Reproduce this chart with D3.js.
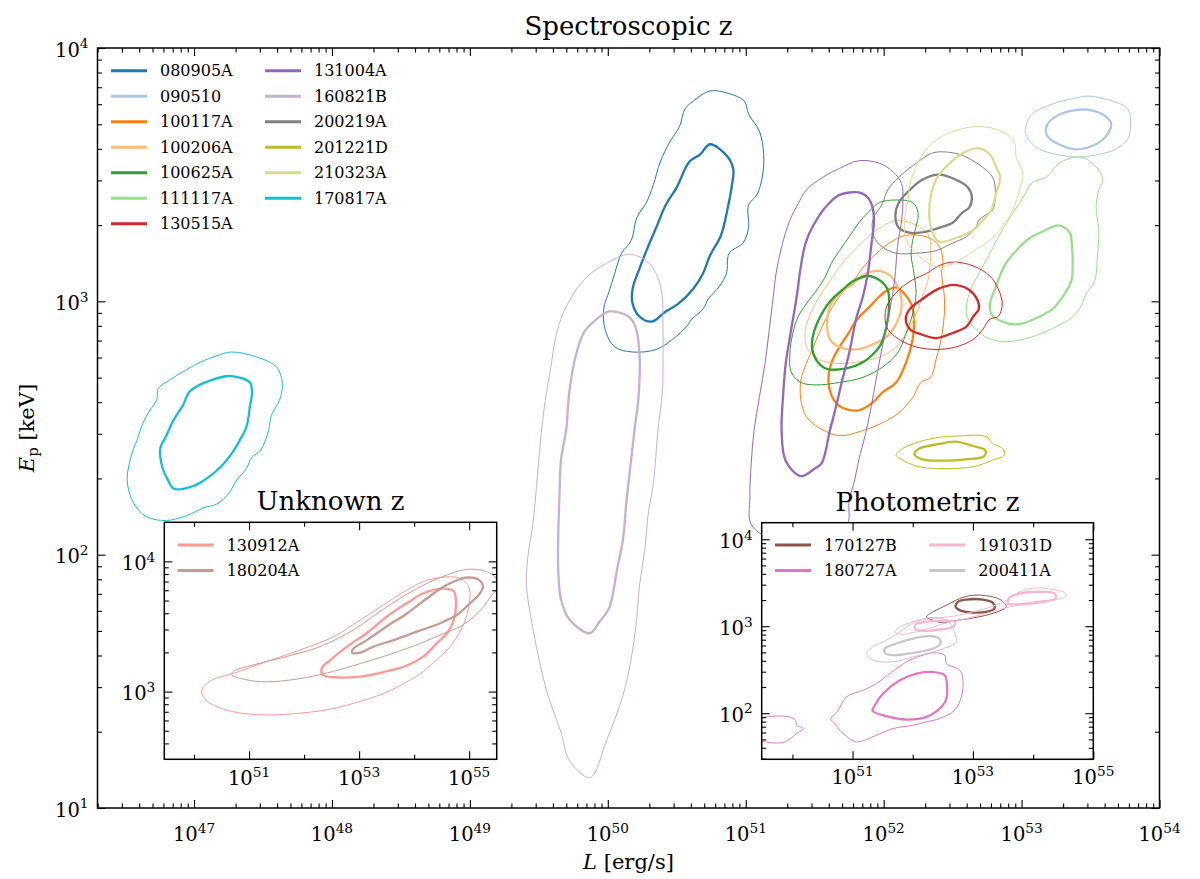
<!DOCTYPE html>
<html>
<head>
<meta charset="utf-8">
<script src="https://cdn.jsdelivr.net/npm/d3@7"></script>
<style>
  body { margin: 0; background: #fff; }
  svg text { font-family: "DejaVu Serif", serif; fill: #000; }
</style>
</head>
<body>
<svg id="chart" width="1200" height="879"></svg>
<script>
// contour rings, points are [log10 L (erg/s), log10 Ep (keV)]
// inner = thick contour, outer = thin contour

const in080905A = [[[50.74,3.62],[50.87,3.57],[50.91,3.52],[50.90,3.46],[50.87,3.37],[50.82,3.26],[50.74,3.18],[50.69,3.11],[50.62,3.05],[50.51,2.99],[50.42,2.96],[50.32,2.92],[50.23,2.94],[50.18,2.99],[50.18,3.05],[50.23,3.13],[50.28,3.20],[50.35,3.29],[50.42,3.38],[50.50,3.45],[50.59,3.55],[50.67,3.58]]];
const out080905A = [[[50.74,3.83],[50.88,3.82],[50.99,3.79],[51.02,3.74],[51.10,3.67],[51.13,3.58],[51.12,3.49],[51.08,3.42],[51.02,3.38],[51.02,3.29],[50.98,3.23],[50.88,3.19],[50.86,3.11],[50.81,3.06],[50.73,3.01],[50.69,2.97],[50.61,2.93],[50.57,2.90],[50.47,2.85],[50.35,2.81],[50.18,2.80],[50.05,2.82],[49.98,2.89],[49.97,2.97],[50.01,3.04],[50.05,3.11],[50.10,3.19],[50.17,3.24],[50.21,3.33],[50.28,3.39],[50.33,3.46],[50.38,3.55],[50.45,3.63],[50.52,3.69],[50.56,3.76],[50.62,3.79]]];

const in090510 = [[[53.39,3.755],[53.515,3.753],[53.61,3.73],[53.65,3.70],[53.61,3.65],[53.54,3.62],[53.39,3.60],[53.27,3.62],[53.19,3.65],[53.18,3.69],[53.25,3.73]]];
const out090510 = [[[53.49,3.81],[53.66,3.79],[53.77,3.76],[53.79,3.70],[53.77,3.64],[53.68,3.60],[53.56,3.58],[53.42,3.57],[53.25,3.58],[53.10,3.61],[53.03,3.66],[53.03,3.69],[53.08,3.74],[53.23,3.78],[53.37,3.80]]];

const in100117A = [[[52.09,3.055],[52.15,3.03],[52.20,2.99],[52.22,2.93],[52.21,2.85],[52.16,2.755],[52.09,2.68],[51.99,2.64],[51.92,2.60],[51.82,2.57],[51.70,2.58],[51.64,2.61],[51.60,2.68],[51.62,2.755],[51.68,2.82],[51.74,2.87],[51.81,2.93],[51.90,2.98],[51.97,3.02],[52.03,3.045]]];
const out100117A = [[[52.16,3.26],[52.31,3.255],[52.40,3.22],[52.43,3.16],[52.42,3.11],[52.44,3.02],[52.44,2.95],[52.42,2.86],[52.38,2.77],[52.34,2.70],[52.27,2.68],[52.21,2.62],[52.11,2.56],[51.99,2.52],[51.85,2.49],[51.68,2.47],[51.535,2.50],[51.44,2.545],[51.40,2.61],[51.40,2.69],[51.44,2.755],[51.49,2.82],[51.58,2.93],[51.68,3.02],[51.78,3.08],[51.86,3.14],[51.97,3.20],[52.07,3.24]]];

const in100206A = [[[51.96,3.12],[52.05,3.10],[52.11,3.045],[52.13,2.98],[52.09,2.91],[52.02,2.86],[51.92,2.83],[51.80,2.81],[51.68,2.82],[51.61,2.85],[51.59,2.91],[51.61,2.98],[51.68,3.03],[51.78,3.07],[51.87,3.11]]];
const out100206A = [[[52.09,3.32],[52.26,3.295],[52.33,3.255],[52.34,3.18],[52.32,3.08],[52.28,3.02],[52.235,2.95],[52.16,2.87],[52.09,2.82],[51.97,2.78],[51.80,2.76],[51.655,2.755],[51.535,2.77],[51.45,2.81],[51.43,2.87],[51.46,2.94],[51.535,3.02],[51.61,3.08],[51.70,3.15],[51.82,3.22],[51.92,3.27],[51.99,3.295]]];

const in100625A = [[[51.885,3.10],[51.98,3.08],[52.03,3.045],[52.04,2.98],[52.02,2.90],[51.98,2.83],[51.93,2.795],[51.85,2.76],[51.73,2.735],[51.58,2.735],[51.51,2.77],[51.48,2.82],[51.49,2.87],[51.55,2.95],[51.62,3.005],[51.70,3.045],[51.78,3.08]]];
const out100625A = [[[52.09,3.40],[52.21,3.39],[52.25,3.35],[52.235,3.295],[52.21,3.24],[52.20,3.18],[52.22,3.11],[52.235,3.03],[52.21,2.95],[52.16,2.87],[52.10,2.795],[51.99,2.74],[51.85,2.70],[51.68,2.68],[51.51,2.67],[51.40,2.68],[51.33,2.72],[51.32,2.795],[51.34,2.87],[51.38,2.94],[51.46,3.005],[51.535,3.06],[51.58,3.10],[51.62,3.15],[51.68,3.20],[51.75,3.255],[51.82,3.31],[51.885,3.35],[51.97,3.39]]];

const in111117A = [[[53.27,3.30],[53.35,3.27],[53.365,3.22],[53.37,3.14],[53.36,3.08],[53.30,3.02],[53.225,2.97],[53.13,2.94],[52.98,2.91],[52.86,2.92],[52.78,2.95],[52.77,2.99],[52.815,3.06],[52.875,3.14],[52.96,3.20],[53.06,3.25],[53.15,3.275]]];
const out111117A = [[[53.42,3.57],[53.515,3.545],[53.59,3.48],[53.56,3.44],[53.54,3.37],[53.56,3.28],[53.55,3.18],[53.53,3.08],[53.47,3.03],[53.42,2.97],[53.35,2.93],[53.25,2.90],[53.13,2.87],[53.01,2.85],[52.86,2.84],[52.74,2.86],[52.65,2.90],[52.60,2.95],[52.62,3.03],[52.69,3.11],[52.77,3.19],[52.86,3.28],[53.01,3.41],[53.08,3.47],[53.18,3.49],[53.27,3.545]]];

const in130515A = [[[52.51,3.065],[52.62,3.045],[52.68,3.005],[52.69,2.97],[52.65,2.94],[52.60,2.90],[52.50,2.875],[52.38,2.855],[52.27,2.87],[52.19,2.89],[52.16,2.93],[52.19,2.97],[52.27,3.005],[52.40,3.05]]];
const out130515A = [[[52.50,3.155],[52.65,3.14],[52.77,3.10],[52.83,3.05],[52.86,2.99],[52.83,2.94],[52.77,2.93],[52.72,2.89],[52.65,2.85],[52.525,2.82],[52.38,2.81],[52.235,2.82],[52.11,2.85],[52.03,2.89],[52.01,2.94],[52.03,2.99],[52.11,3.045],[52.21,3.085],[52.31,3.11],[52.40,3.14]]];

const in131004A = [[[51.68,3.42],[51.82,3.43],[51.885,3.41],[51.92,3.37],[51.93,3.32],[51.91,3.22],[51.885,3.11],[51.85,3.02],[51.80,2.93],[51.75,2.795],[51.70,2.69],[51.655,2.585],[51.61,2.49],[51.55,2.36],[51.50,2.34],[51.40,2.31],[51.29,2.37],[51.26,2.49],[51.27,2.62],[51.29,2.755],[51.33,2.89],[51.37,3.02],[51.40,3.14],[51.44,3.24],[51.535,3.34],[51.61,3.39]]];
const out131004A = [[[51.82,3.555],[51.97,3.545],[52.07,3.51],[52.13,3.465],[52.14,3.40],[52.13,3.32],[52.10,3.215],[52.08,3.085],[52.04,2.95],[51.99,2.82],[51.945,2.69],[51.91,2.585],[51.87,2.48],[51.82,2.375],[51.79,2.295],[51.75,2.215],[51.73,2.11],[51.44,2.03],[51.05,2.11],[51.03,2.23],[51.04,2.36],[51.06,2.49],[51.10,2.625],[51.14,2.755],[51.17,2.885],[51.20,3.02],[51.22,3.11],[51.26,3.215],[51.32,3.32],[51.38,3.385],[51.44,3.44],[51.56,3.49],[51.68,3.525]]];

const in160821B = [[[50.01,2.96],[50.15,2.94],[50.20,2.90],[50.23,2.79],[50.22,2.605],[50.195,2.50],[50.16,2.33],[50.135,2.21],[50.11,2.06],[50.07,1.95],[50.01,1.79],[49.94,1.735],[49.87,1.69],[49.72,1.745],[49.66,1.825],[49.64,1.95],[49.64,2.06],[49.65,2.24],[49.66,2.37],[49.70,2.50],[49.72,2.64],[49.77,2.79],[49.83,2.88],[49.92,2.93]]];
const out160821B = [[[50.15,3.185],[50.28,3.16],[50.35,3.11],[50.39,3.04],[50.40,2.895],[50.40,2.75],[50.395,2.64],[50.365,2.50],[50.33,2.28],[50.29,2.15],[50.27,2.025],[50.23,1.88],[50.21,1.75],[50.17,1.59],[50.11,1.445],[49.99,1.265],[49.87,1.12],[49.72,1.19],[49.66,1.30],[49.555,1.465],[49.46,1.70],[49.41,1.88],[49.42,1.99],[49.46,2.135],[49.49,2.315],[49.52,2.495],[49.555,2.64],[49.59,2.75],[49.615,2.84],[49.66,2.93],[49.74,3.02],[49.845,3.095],[49.99,3.15]]];

const in200219A = [[[52.40,3.50],[52.525,3.48],[52.61,3.45],[52.64,3.41],[52.62,3.37],[52.57,3.35],[52.50,3.31],[52.40,3.29],[52.31,3.275],[52.20,3.27],[52.11,3.29],[52.085,3.34],[52.11,3.39],[52.19,3.44],[52.28,3.48]]];
const out200219A = [[[52.40,3.59],[52.55,3.58],[52.69,3.54],[52.79,3.49],[52.81,3.425],[52.79,3.36],[52.75,3.345],[52.69,3.32],[52.67,3.295],[52.60,3.255],[52.50,3.23],[52.38,3.20],[52.235,3.19],[52.09,3.19],[51.99,3.215],[51.93,3.255],[51.92,3.32],[51.99,3.385],[52.03,3.44],[52.11,3.49],[52.235,3.545],[52.33,3.58]]];

const in201221D = [[[52.525,2.446],[52.646,2.429],[52.737,2.413],[52.73,2.389],[52.597,2.376],[52.428,2.371],[52.283,2.376],[52.223,2.397],[52.259,2.419],[52.404,2.437]]];
const out201221D = [[[52.525,2.468],[52.742,2.466],[52.79,2.439],[52.863,2.419],[52.875,2.393],[52.79,2.373],[52.646,2.347],[52.452,2.34],[52.259,2.347],[52.138,2.373],[52.09,2.393],[52.138,2.419],[52.259,2.446],[52.404,2.463]]];

const in210323A = [[[52.68,3.605],[52.77,3.58],[52.815,3.53],[52.845,3.49],[52.815,3.425],[52.78,3.36],[52.72,3.32],[52.645,3.28],[52.55,3.255],[52.40,3.235],[52.355,3.27],[52.33,3.345],[52.345,3.425],[52.38,3.48],[52.45,3.53],[52.56,3.58]]];
const out210323A = [[[52.69,3.69],[52.86,3.67],[52.95,3.625],[52.96,3.57],[53.01,3.505],[52.985,3.44],[52.935,3.36],[52.86,3.295],[52.765,3.24],[52.645,3.195],[52.525,3.155],[52.405,3.135],[52.31,3.155],[52.235,3.19],[52.165,3.24],[52.15,3.31],[52.175,3.40],[52.20,3.48],[52.26,3.56],[52.355,3.625],[52.50,3.67]]];

const in170817A = [[[47.27,2.705],[47.405,2.68],[47.42,2.64],[47.405,2.585],[47.38,2.505],[47.33,2.45],[47.28,2.405],[47.19,2.345],[47.09,2.30],[46.99,2.27],[46.855,2.26],[46.81,2.295],[46.77,2.345],[46.755,2.42],[46.80,2.47],[46.85,2.53],[46.92,2.59],[46.97,2.645],[47.13,2.69]]];
const out170817A = [[[47.27,2.80],[47.455,2.78],[47.60,2.74],[47.64,2.675],[47.62,2.61],[47.56,2.55],[47.54,2.49],[47.48,2.41],[47.42,2.385],[47.38,2.34],[47.31,2.295],[47.25,2.24],[47.165,2.20],[47.07,2.185],[46.95,2.155],[46.80,2.135],[46.655,2.15],[46.56,2.205],[46.515,2.295],[46.55,2.40],[46.585,2.45],[46.63,2.52],[46.68,2.57],[46.73,2.61],[46.74,2.655],[46.825,2.69],[46.945,2.73],[47.045,2.76],[47.165,2.785]]];

// unknown redshift
const in130912A = [[[54.53,3.79],[54.72,3.77],[54.76,3.68],[54.72,3.55],[54.60,3.45],[54.41,3.37],[54.17,3.27],[53.87,3.20],[53.44,3.15],[53.02,3.115],[52.53,3.11],[52.34,3.13],[52.32,3.18],[52.47,3.24],[52.78,3.345],[53.14,3.45],[53.50,3.575],[53.87,3.68],[54.17,3.755]]];
const out130912A = [[[50.14,3.01],[50.29,3.08],[50.715,3.14],[51.32,3.23],[51.93,3.32],[52.53,3.42],[53.02,3.55],[53.44,3.665],[53.87,3.78],[54.17,3.845],[54.47,3.875],[54.72,3.88],[54.90,3.855],[55.01,3.78],[54.99,3.65],[54.93,3.55],[54.81,3.445],[54.655,3.345],[54.41,3.245],[54.17,3.155],[53.87,3.075],[53.44,2.985],[52.90,2.91],[52.41,2.86],[51.93,2.835],[51.32,2.82],[50.715,2.845],[50.29,2.91],[50.17,2.96]]];

const in180204A = [[[54.93,3.875],[55.17,3.86],[55.25,3.805],[55.17,3.74],[55.02,3.68],[54.78,3.59],[54.47,3.525],[54.05,3.46],[53.625,3.395],[53.26,3.345],[53.02,3.30],[52.87,3.30],[52.90,3.33],[53.14,3.395],[53.50,3.50],[53.87,3.60],[54.23,3.715],[54.53,3.805],[54.78,3.855]]];
const out180204A = [[[55.08,3.94],[55.32,3.92],[55.47,3.88],[55.53,3.805],[55.41,3.74],[55.26,3.65],[55.08,3.575],[54.84,3.50],[54.53,3.445],[54.11,3.37],[53.625,3.295],[53.02,3.215],[52.53,3.155],[51.93,3.10],[51.32,3.075],[50.96,3.09],[50.685,3.13],[50.715,3.155],[51.08,3.205],[51.685,3.27],[52.29,3.345],[52.90,3.475],[53.50,3.65],[54.11,3.805],[54.595,3.895],[54.90,3.935]]];

// photometric redshift
const in170127B = [[[52.89,3.306],[53.167,3.306],[53.333,3.268],[53.36,3.203],[53.222,3.165],[53.001,3.157],[52.808,3.176],[52.714,3.222],[52.752,3.28]]];
const out170127B = [[[53.001,3.356],[53.277,3.345],[53.471,3.299],[53.554,3.222],[53.443,3.176],[53.222,3.126],[52.946,3.088],[52.669,3.061],[52.504,3.038],[52.338,3.069],[52.227,3.107],[52.338,3.165],[52.559,3.241],[52.78,3.318]]];

const in180727A = [[[52.28,2.475],[52.53,2.437],[52.57,2.303],[52.55,2.15],[52.42,2.035],[52.23,1.958],[51.895,1.927],[51.564,1.966],[51.332,2.027],[51.37,2.092],[51.508,2.226],[51.785,2.379],[52.061,2.456]]];
const out180727A = [
  [[52.338,2.694],[52.531,2.667],[52.559,2.571],[52.78,2.494],[52.835,2.379],[52.807,2.188],[52.697,2.035],[52.448,1.939],[52.227,1.901],[52.006,1.862],[51.674,1.824],[51.398,1.747],[51.066,1.671],[50.845,1.766],[50.679,1.901],[50.635,1.927],[50.762,2.035],[50.9,2.188],[51.177,2.264],[51.398,2.341],[51.619,2.456],[51.895,2.59],[52.116,2.655]],
  [[49.40,1.92],[49.85,1.966],[50.044,1.927],[50.071,1.862],[50.182,1.824],[50.071,1.766],[49.878,1.671],[49.684,1.659],[49.40,1.709],[49.38,1.824]]
];

const in191031D = [
  [[53.775,3.376],[54.162,3.395],[54.355,3.376],[54.372,3.318],[54.162,3.28],[53.775,3.253],[53.581,3.261],[53.609,3.33]],
  [[52.116,3.038],[52.448,3.061],[52.697,3.05],[52.669,2.992],[52.448,2.962],[52.172,2.946],[52.034,2.973],[52.05,3.023]]
];
const out191031D = [[[53.775,3.395],[54.051,3.441],[54.383,3.414],[54.549,3.375],[54.521,3.33],[54.328,3.306],[53.996,3.28],[53.664,3.23],[53.443,3.192],[53.222,3.146],[53.001,3.107],[52.78,3.069],[52.559,3.038],[52.338,2.992],[52.061,2.935],[51.785,2.908],[51.702,2.935],[51.785,2.992],[52.006,3.05],[52.338,3.088],[52.669,3.115],[53.001,3.165],[53.333,3.23],[53.554,3.299]]];

const in200411A = [[[52.282,2.885],[52.437,2.858],[52.459,2.801],[52.338,2.743],[52.006,2.694],[51.674,2.667],[51.536,2.694],[51.536,2.743],[51.73,2.801],[52.006,2.858]]];
const out200411A = [[[52.282,3.1],[52.559,3.069],[52.669,2.973],[52.725,2.82],[52.586,2.763],[52.338,2.705],[52.006,2.648],[51.674,2.59],[51.343,2.609],[51.232,2.686],[51.343,2.763],[51.564,2.839],[51.785,2.935],[52.006,3.038]]];

const spectroNames = ["080905A","090510","100117A","100206A","100625A","111117A","130515A",
                      "131004A","160821B","200219A","201221D","210323A","170817A"];
const spectroSets = [[in080905A,out080905A],[in090510,out090510],[in100117A,out100117A],[in100206A,out100206A],
  [in100625A,out100625A],[in111117A,out111117A],[in130515A,out130515A],[in131004A,out131004A],
  [in160821B,out160821B],[in200219A,out200219A],[in201221D,out201221D],[in210323A,out210323A],[in170817A,out170817A]];
const unknownNames = ["130912A","180204A"];
const unknownSets = [[in130912A,out130912A],[in180204A,out180204A]];
const photoNames = ["170127B","180727A","191031D","200411A"];
const photoSets = [[in170127B,out170127B],[in180727A,out180727A],[in191031D,out191031D],[in200411A,out200411A]];

// axis ranges (log10) and labelled decades
const mainXRange = [46.3, 54], mainYRange = [1, 4];
const mainXTicks = [47,48,49,50,51,52,53,54], mainYTicks = [1,2,3,4];
const unkXRange = [49.46, 55.5], unkYRange = [2.48, 4.3];
const unkXTicks = [51,53,55], unkXMinor = [50,52,54], unkYTicks = [3,4];
const phoXRange = [49.49, 55], phoYRange = [1.47, 4.19];
const phoXTicks = [51,53,55], phoXMinor = [50,52,54], phoYTicks = [2,3,4];

// colours (tab20)
const spectroColors = ["#1f77b4","#aec7e8","#ff7f0e","#ffbb78","#2ca02c","#98df8a","#d62728",
                       "#9467bd","#c5b0d5","#7f7f7f","#bcbd22","#dbdb8d","#17becf"];
const unknownColors = ["#ff9896","#c49c94"];
const photoColors = ["#8c564b","#e377c2","#f7b6d2","#c7c7c7"];

const svg = d3.select("#chart");
const defs = svg.append("defs");
const TICK = 19.5;

function minors(range) {
  const out = [];
  for (let d = Math.floor(range[0]); d <= Math.ceil(range[1]); d++)
    for (let m = 2; m <= 9; m++) {
      const v = d + Math.log10(m);
      if (v > range[0] && v < range[1]) out.push(m * 10 ** d);
    }
  return out;
}

function sup(g, x, y, exp, anchor) {
  const t = g.append("text").attr("x", x).attr("y", y)
    .attr("text-anchor", anchor).attr("font-size", TICK);
  t.append("tspan").text("10");
  t.append("tspan").attr("dy", -0.42 * TICK).attr("font-size", TICK * 0.7).text(exp);
}

function panel(id, left, top, w, h, xr, yr, o) {
  const x = d3.scaleLog().domain(xr.map(v => 10 ** v)).range([0, w]);
  const y = d3.scaleLog().domain(yr.map(v => 10 ** v)).range([h, 0]);
  const g = svg.append("g").attr("transform", `translate(${left},${top})`);

  g.append("rect").attr("width", w).attr("height", h).attr("fill", "#fff");

  defs.append("clipPath").attr("id", "clip-" + id)
    .append("rect").attr("width", w).attr("height", h);
  const plot = g.append("g").attr("clip-path", `url(#clip-${id})`);

  const line = d3.line()
    .x(p => x(10 ** p[0])).y(p => y(10 ** p[1]))
    .curve(d3.curveCatmullRomClosed.alpha(0.5));

  o.sets.forEach((s, i) => {
    s[1].forEach(r => plot.append("path").attr("d", line(r)).attr("fill", "none")
      .attr("stroke", o.colors[i]).attr("stroke-width", 1));
    s[0].forEach(r => plot.append("path").attr("d", line(r)).attr("fill", "none")
      .attr("stroke", o.colors[i]).attr("stroke-width", 2.3));
  });

  // ticks, all four sides, pointing in
  const xMaj = o.xTicks.map(e => 10 ** e);
  const yMaj = o.yTicks.map(e => 10 ** e);
  const xMin = o.xMinor ? o.xMinor.map(e => 10 ** e) : minors(xr);
  const yMin = minors(yr);
  const ax = (gen, vals, len, tr) => g.append("g").attr("transform", tr)
    .call(gen.tickValues(vals).tickSize(-len).tickFormat(""))
    .call(a => a.select(".domain").remove())
    .selectAll("line").attr("stroke", "#000").attr("stroke-width", 1.1);
  [[xMaj, 8], [xMin, 4.5]].forEach(([v, l]) => {
    ax(d3.axisBottom(x), v, l, `translate(0,${h})`);
    ax(d3.axisTop(x), v, l, "translate(0,0)");
  });
  [[yMaj, 8], [yMin, 4.5]].forEach(([v, l]) => {
    ax(d3.axisLeft(y), v, l, "translate(0,0)");
    ax(d3.axisRight(y), v, l, `translate(${w},0)`);
  });

  g.append("rect").attr("width", w).attr("height", h)
    .attr("fill", "none").attr("stroke", "#000").attr("stroke-width", 1.5);

  o.xTicks.forEach(e => sup(g, x(10 ** e), h + o.xLabelDy, e, "middle"));
  o.yTicks.forEach(e => sup(g, -9, y(10 ** e) + 8.5, e, "end"));

  g.append("text").attr("x", w / 2).attr("y", -o.titleDy)
    .attr("text-anchor", "middle").attr("font-size", 26).text(o.title);

  // legend
  o.names.forEach((n, i) => {
    const col = Math.floor(i / o.rows), row = i % o.rows;
    const lx = o.legX + col * o.legColW, ly = o.legY + row * 25.5;
    g.append("line").attr("x1", lx).attr("x2", lx + 36).attr("y1", ly).attr("y2", ly)
      .attr("stroke", o.colors[i]).attr("stroke-width", 3);
    g.append("text").attr("x", lx + 49).attr("y", ly).attr("dy", "0.35em")
      .attr("font-size", 16).text(n);
  });
  return g;
}

const main = panel("main", 97.5, 48, 1062, 760, mainXRange, mainYRange, {
  sets: spectroSets, colors: spectroColors, names: spectroNames,
  xTicks: mainXTicks, yTicks: mainYTicks, xLabelDy: 33,
  title: "Spectroscopic z", titleDy: 13,
  rows: 7, legX: 13.5, legY: 22.7, legColW: 154
});

// axis labels
const xl = svg.append("text").attr("x", 628.5).attr("y", 869)
  .attr("text-anchor", "middle").attr("font-size", 21);
xl.append("tspan").attr("font-style", "italic").text("L");
xl.append("tspan").text(" [erg/s]");

const yl = svg.append("text").attr("transform", "translate(34,428) rotate(-90)")
  .attr("text-anchor", "middle").attr("font-size", 21);
yl.append("tspan").attr("font-style", "italic").text("E");
yl.append("tspan").attr("font-size", 15).attr("dy", 4).text("p");
yl.append("tspan").attr("dy", -4).text(" [keV]");

panel("unk", 164.3, 522.3, 332.4, 237, unkXRange, unkYRange, {
  sets: unknownSets, colors: unknownColors, names: unknownNames,
  xTicks: unkXTicks, xMinor: unkXMinor, yTicks: unkYTicks, xLabelDy: 26,
  title: "Unknown z", titleDy: 12,
  rows: 2, legX: 13.4, legY: 22.7, legColW: 154
});

panel("pho", 761.7, 522.7, 331.6, 236.6, phoXRange, phoYRange, {
  sets: photoSets, colors: photoColors, names: photoNames,
  xTicks: phoXTicks, xMinor: phoXMinor, yTicks: phoYTicks, xLabelDy: 25,
  title: "Photometric z", titleDy: 12,
  rows: 2, legX: 13.3, legY: 22.3, legColW: 154.3
});
</script>
</body>
</html>
